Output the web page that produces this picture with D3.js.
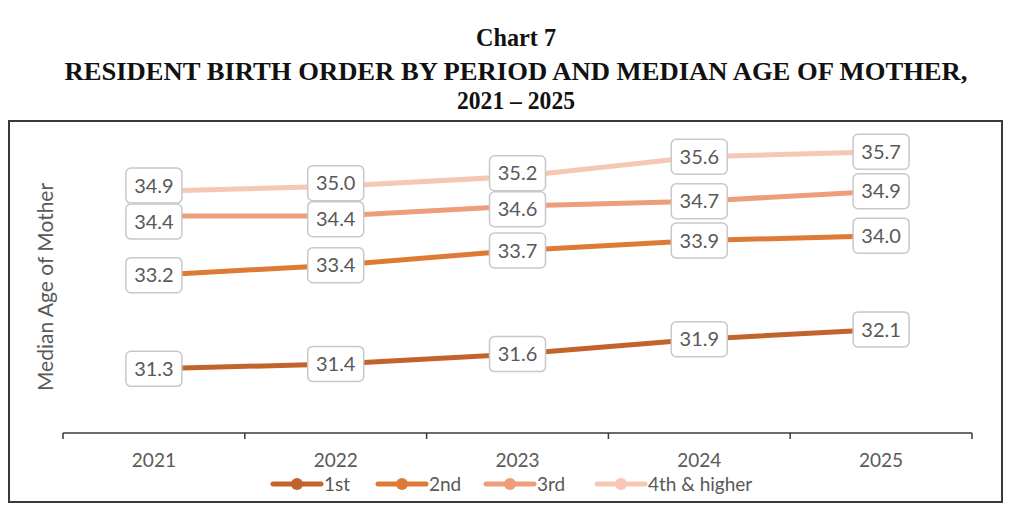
<!DOCTYPE html>
<html>
<head>
<meta charset="utf-8">
<script src="https://cdn.jsdelivr.net/npm/d3@7"></script>
<style>
  body { margin: 0; background: #fff; }
</style>
</head>
<body>
<div id="chart"></div>
<script>
// Data
const years = ['2021', '2022', '2023', '2024', '2025'];
const seriesNames = ['1st', '2nd', '3rd', '4th & higher'];
const first = [31.3, 31.4, 31.6, 31.9, 32.1];
const second = [33.2, 33.4, 33.7, 33.9, 34.0];
const third = [34.4, 34.4, 34.6, 34.7, 34.9];
const fourthPlus = [34.9, 35.0, 35.2, 35.6, 35.7];
const colors = ['#c2632b', '#df7a36', '#ee9d7b', '#f6c7b2'];

const series = [first, second, third, fourthPlus].map((values, i) => ({
  name: seriesNames[i], color: colors[i], values: values
}));

const W = 1026, H = 517;
const svg = d3.select('#chart').append('svg')
  .attr('width', W).attr('height', H)
  .style('font-family', 'Lato, "Open Sans", sans-serif');

// Titles
const titleLines = ['Chart 7', 'RESIDENT BIRTH ORDER BY PERIOD AND MEDIAN AGE OF MOTHER,', '2021 \u2013 2025'];
const titleY = [46, 80, 109];
const titleW = [80, 903, 118];
svg.selectAll('text.title')
  .data(titleLines)
  .enter().append('text')
  .attr('class', 'title')
  .attr('x', 516)
  .attr('y', (d, i) => titleY[i])
  .attr('text-anchor', 'middle')
  .attr('textLength', (d, i) => titleW[i])
  .attr('lengthAdjust', 'spacingAndGlyphs')
  .style('font-family', '"Liberation Serif", "Times New Roman", serif')
  .style('font-weight', 'bold')
  .style('font-size', '26px')
  .attr('fill', '#111')
  .text(d => d);

// Chart frame
svg.append('rect')
  .attr('x', 9).attr('y', 121)
  .attr('width', 993).attr('height', 381)
  .attr('fill', 'none')
  .attr('stroke', '#3a3a3a')
  .attr('stroke-width', 2);

// Scales
const x = d3.scaleBand().domain(years).range([63, 972]);
const y = d3.scaleLinear().domain([30, 36]).range([433, 137]);
const cx = d => x(d) + x.bandwidth() / 2;

// X axis (ticks on band edges)
const axisG = svg.append('g').attr('transform', 'translate(0,433)');
axisG.append('line')
  .attr('x1', 63).attr('x2', 972)
  .attr('stroke', '#3a3a3a').attr('stroke-width', 1.5);
const edges = years.map(d => x(d)).concat([x(years[years.length - 1]) + x.bandwidth()]);
axisG.selectAll('line.tick')
  .data(edges)
  .enter().append('line')
  .attr('class', 'tick')
  .attr('x1', d => d).attr('x2', d => d)
  .attr('y1', 0).attr('y2', 6)
  .attr('stroke', '#3a3a3a').attr('stroke-width', 1.5);
axisG.selectAll('text')
  .data(years)
  .enter().append('text')
  .attr('x', d => cx(d))
  .attr('y', 34)
  .attr('text-anchor', 'middle')
  .attr('fill', '#595959')
  .style('font-size', '19px')
  .text(d => d);

// Y axis title
svg.append('text')
  .attr('transform', 'translate(53,287) rotate(-90)')
  .attr('text-anchor', 'middle')
  .attr('fill', '#595959')
  .style('font-size', '21px')
  .text('Median Age of Mother');

// Lines
const line = d3.line()
  .x((d, i) => cx(years[i]))
  .y(d => y(d));

svg.selectAll('path.series')
  .data(series)
  .enter().append('path')
  .attr('class', 'series')
  .attr('d', d => line(d.values))
  .attr('fill', 'none')
  .attr('stroke', d => d.color)
  .attr('stroke-width', 5)
  .attr('stroke-linecap', 'round');

// Data labels: centred on points, pushed apart where boxes collide
const boxW = 56, boxH = 35, gap = 1;
const labels = [];
years.forEach((yr, i) => {
  const col = series.map(s => ({ v: s.values[i], x: cx(yr), cy: y(s.values[i]) }))
    .sort((a, b) => b.v - a.v);
  for (let iter = 0; iter < 10; iter++) {
    for (let k = 0; k < col.length - 1; k++) {
      const a = col[k], b = col[k + 1];
      const overlap = (a.cy + boxH / 2 + gap) - (b.cy - boxH / 2);
      if (overlap > 0) { a.cy -= overlap / 2; b.cy += overlap / 2; }
    }
  }
  col.forEach(c => labels.push(c));
});

const lab = svg.selectAll('g.label')
  .data(labels)
  .enter().append('g')
  .attr('class', 'label')
  .attr('transform', d => 'translate(' + d.x + ',' + d.cy + ')');
lab.append('rect')
  .attr('x', -boxW / 2).attr('y', -boxH / 2)
  .attr('width', boxW).attr('height', boxH)
  .attr('rx', 5)
  .attr('fill', '#fff')
  .attr('stroke', '#c8c8c8')
  .attr('stroke-width', 1.5);
lab.append('text')
  .attr('text-anchor', 'middle')
  .attr('dy', '0.36em')
  .attr('fill', '#595959')
  .style('font-size', '20px')
  .text(d => d.v.toFixed(1));

// Legend
const legendX = [273, 378, 486, 597];
const legend = svg.selectAll('g.legend')
  .data(series)
  .enter().append('g')
  .attr('class', 'legend')
  .attr('transform', (d, i) => 'translate(' + legendX[i] + ',484)');
legend.append('line')
  .attr('x1', 0).attr('x2', 48)
  .attr('stroke', d => d.color)
  .attr('stroke-width', 5)
  .attr('stroke-linecap', 'round');
legend.append('circle')
  .attr('cx', 24).attr('r', 6)
  .attr('fill', d => d.color);
legend.append('text')
  .attr('x', 51)
  .attr('dy', '0.35em')
  .attr('fill', '#595959')
  .style('font-size', '19px')
  .text(d => d.name);
</script>
</body>
</html>
